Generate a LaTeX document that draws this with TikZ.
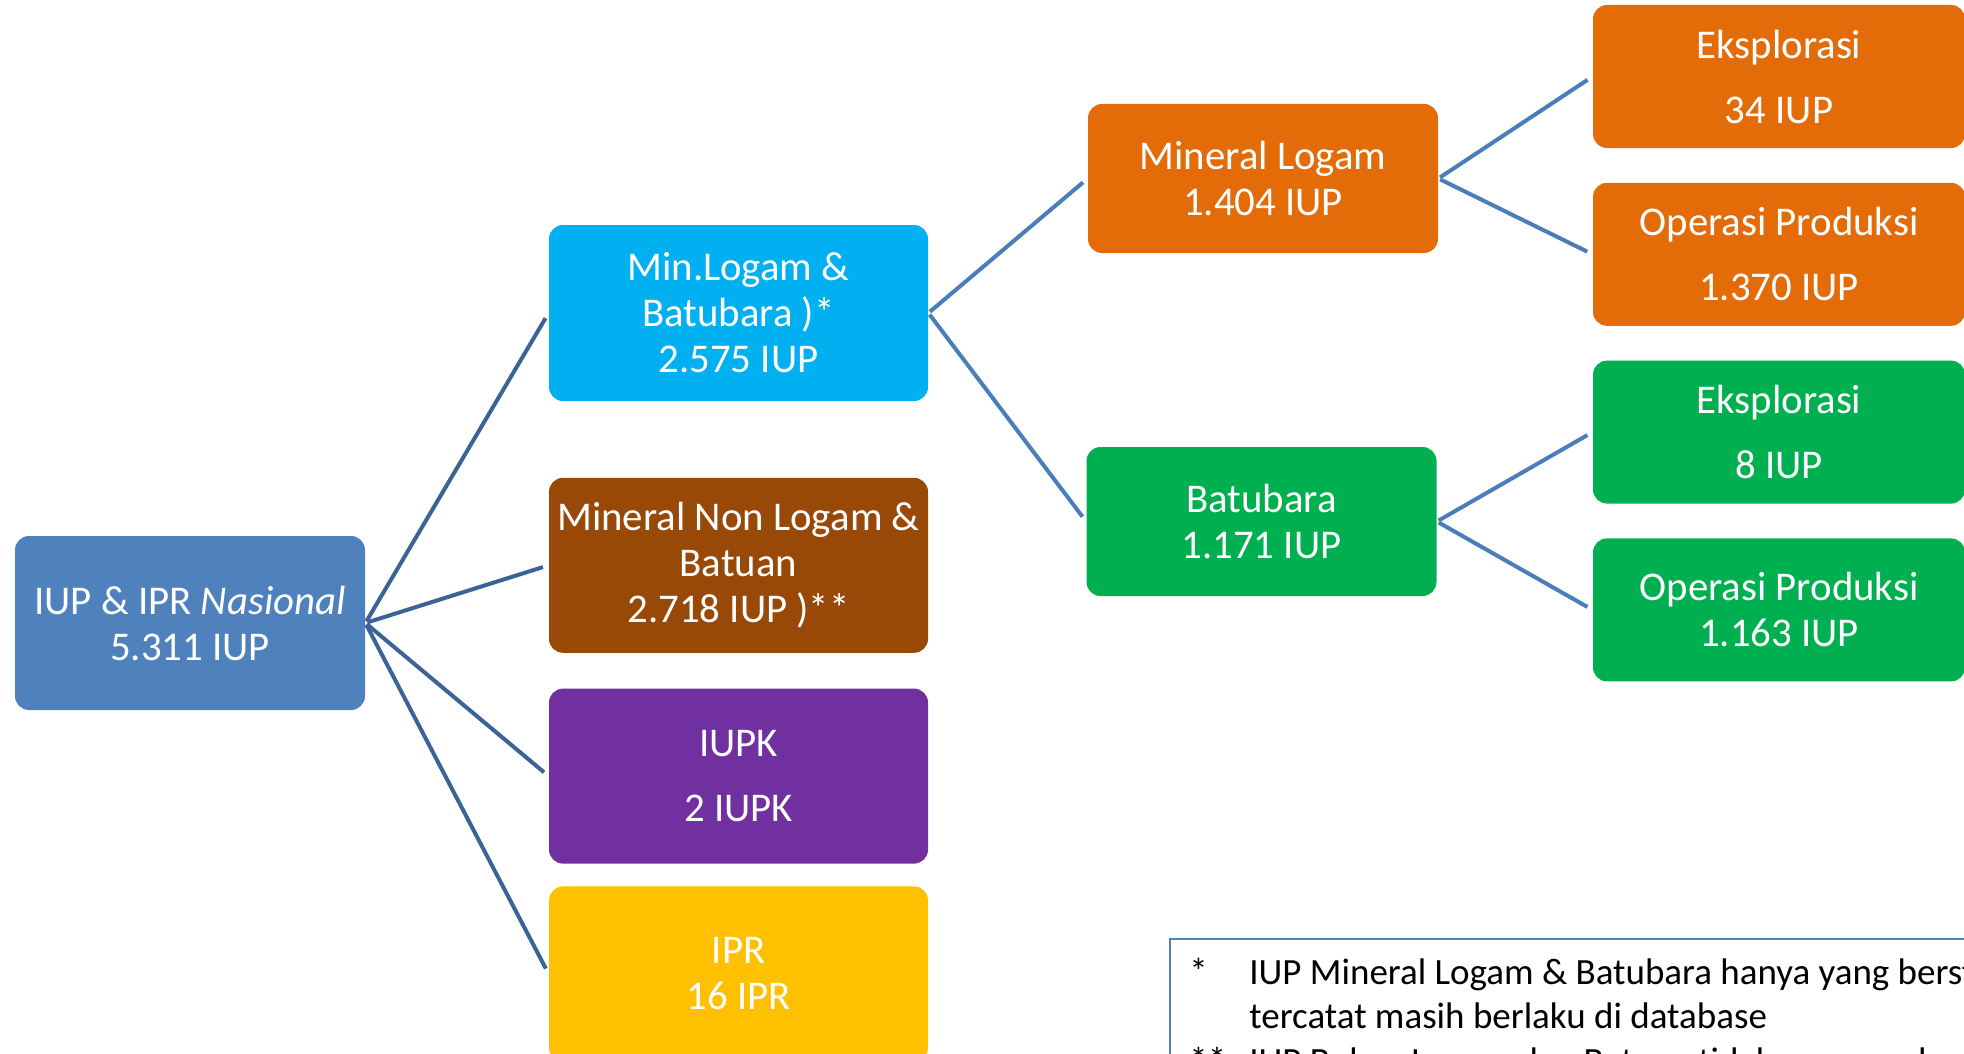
\documentclass[tikz,border=0pt]{standalone}
\usepackage{fontspec}
\setmainfont{Carlito}
\usepackage{tikz}
\usetikzlibrary{positioning}
\definecolor{rootblue}{HTML}{4F81BD}
\definecolor{skyblue}{HTML}{00B0F0}
\definecolor{rockbrown}{HTML}{984807}
\definecolor{iupkpurple}{HTML}{7030A0}
\definecolor{tambangyellow}{HTML}{FFC000}
\definecolor{logamorange}{HTML}{E36C09}
\definecolor{batugreen}{HTML}{00B050}
\definecolor{linkdark}{HTML}{3B6496}
\definecolor{linklight}{HTML}{4A7EBB}
\tikzset{
box/.style = {rectangle, rounded corners=7pt, inner sep=0pt, text=white, align=center,
  font=\fontsize{20.4}{23}\selectfont},
lvlone/.style = {box, minimum width=189.5pt, minimum height=87.5pt},
lvltwo/.style = {box, minimum width=175pt, minimum height=74.5pt},
lvlthree/.style = {box, minimum width=186pt, minimum height=71.5pt},
link/.style = {line width=2pt, draw=linkdark, shorten <=1pt, shorten >=3pt},
sublink/.style = {link, draw=linklight},
notetext/.style = {inner sep=0pt, text=black, font=\fontsize{18.5}{22}\selectfont}
}

\begin{document}
\begin{tikzpicture}[x=0.5pt, y=-0.5pt, node distance=17pt]
    \useasboundingbox (0,0) rectangle (1964,1054);
    % We start by placing the blocks
    \node [box, fill=rootblue, minimum width=175pt, minimum height=87pt] (root) at (190,623)
        {IUP \& IPR \textit{Nasional}\\5.311 IUP};
    \node [lvlone, fill=skyblue, minimum height=88pt] (minlb) at (738.5,313)
        {Min.Logam \&\\Batubara )*\\2.575 IUP};
    \node [lvlone, fill=rockbrown, below=38pt of minlb] (nonlogam)
        {Mineral Non Logam \&\\Batuan\\2.718 IUP )**};
    \node [lvlone, fill=iupkpurple, below=17.5pt of nonlogam] (iupk)
        {IUPK\\[9.5pt]2 IUPK};
    \node [lvlone, fill=tambangyellow, below=11pt of iupk] (ipr)
        {IPR\\16 IPR};

    \node [lvltwo, fill=logamorange] (minlogam) at (1263,178.5)
        {Mineral Logam\\1.404 IUP};
    \node [lvltwo, fill=batugreen] (batubara) at (1261.5,521.5)
        {Batubara\\1.171 IUP};

    \node [lvlthree, fill=logamorange] (eksA) at (1779,76.5)
        {Eksplorasi\\[9.5pt]34 IUP};
    \node [lvlthree, fill=logamorange, below=of eksA] (opA)
        {Operasi Produksi\\[9.5pt]1.370 IUP};
    \node [lvlthree, fill=batugreen, below=of opA] (eksB)
        {Eksplorasi\\[9.5pt]8 IUP};
    \node [lvlthree, fill=batugreen, below=of eksB] (opB)
        {Operasi Produksi\\1.163 IUP};

    % connectors
    \foreach \t in {minlb,nonlogam,iupk,ipr}
        \draw [link] (root.east) -- (\t.west);
    \draw [sublink] (minlb.east) -- (minlogam.west);
    \draw [sublink] (minlb.east) -- (batubara.west);
    \draw [sublink] (minlogam.east) -- (eksA.west);
    \draw [sublink] (minlogam.east) -- (opA.west);
    \draw [sublink] (batubara.east) -- (eksB.west);
    \draw [sublink] (batubara.east) -- (opB.west);

    % note
    \draw [rootblue, line width=0.8pt] (1170,939) rectangle (2010,1120);
    \node [notetext, anchor=base west] (starA) at (1189,984) {*};
    \node [notetext, anchor=base west] (noteA) at (1249,984)
        {IUP Mineral Logam \& Batubara hanya yang berstatus};
    \node [notetext, anchor=base west] (noteB) at (1249,1028.5)
        {tercatat masih berlaku di database};
    \node [notetext, anchor=base west] (starC) at (1189,1073) {**};
    \node [notetext, anchor=base west] (noteC) at (1249,1073)
        {IUP Bukan Logam dan Batuan tidak semua ada dalam database};
\end{tikzpicture}
\end{document}
